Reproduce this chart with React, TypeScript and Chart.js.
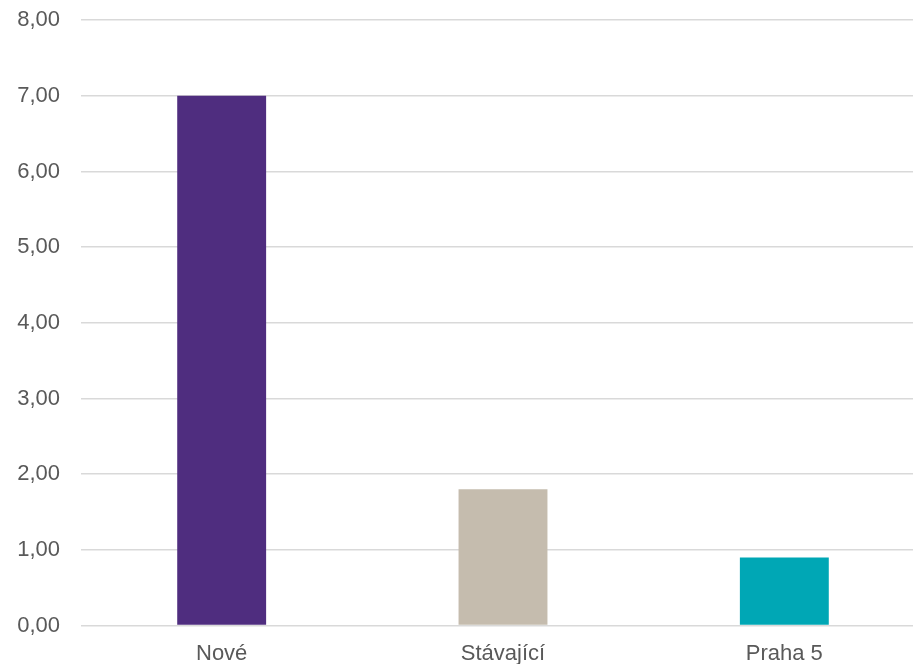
import React, { useEffect, useRef } from "react";
import { Chart, registerables } from "chart.js";

Chart.register(...registerables);

const categories = ["Nové", "Stávající", "Praha 5"];
const values = [7.0, 1.8, 0.9];
const barColors = ["#4F2D7F", "#C5BCAE", "#00A7B5"];
const yTicks = { min: 0, max: 8, step: 1 };

export default function App() {
  const ref = useRef<HTMLCanvasElement | null>(null);

  useEffect(() => {
    if (!ref.current) return;
    const chart = new Chart(ref.current, {
      type: "bar",
      data: {
        labels: categories,
        datasets: [
          {
            data: values,
            backgroundColor: barColors,
            borderWidth: 0,
            categoryPercentage: 1,
            barPercentage: 0.316,
          },
        ],
      },
      options: {
        responsive: false,
        animation: false,
        layout: { padding: { top: 5, right: 5, left: 0, bottom: 0 } },
        plugins: { legend: { display: false }, tooltip: { enabled: false } },
        scales: {
          x: {
            grid: { display: false },
            border: { display: false },
            ticks: {
              color: "#595959",
              font: { family: "'Liberation Sans', Arial, sans-serif", size: 22 },
              padding: 7,
              maxRotation: 0,
            },
            afterFit: (s: any) => {
              s.height = 74.5;
            },
          },
          y: {
            min: yTicks.min,
            max: yTicks.max,
            ticks: {
              stepSize: yTicks.step,
              color: "#595959",
              font: { family: "'Liberation Sans', Arial, sans-serif", size: 22 },
              padding: 21,
              callback: (v: any) => Number(v).toFixed(2).replace(".", ","),
            },
            grid: { color: "#D9D9D9", lineWidth: 1.5, drawTicks: false },
            border: { display: false },
            afterFit: (s: any) => {
              s.width = 81;
            },
          },
        },
      },
    });
    return () => chart.destroy();
  }, []);

  return (
    <div
      style={{
        position: "fixed",
        left: 0,
        top: 0,
        width: 913,
        height: 664,
        overflow: "hidden",
        background: "#fff",
      }}
    >
      <canvas
        ref={ref}
        width={930}
        height={714}
        style={{ display: "block", position: "absolute", left: 0, top: -14 }}
      />
    </div>
  );
}
